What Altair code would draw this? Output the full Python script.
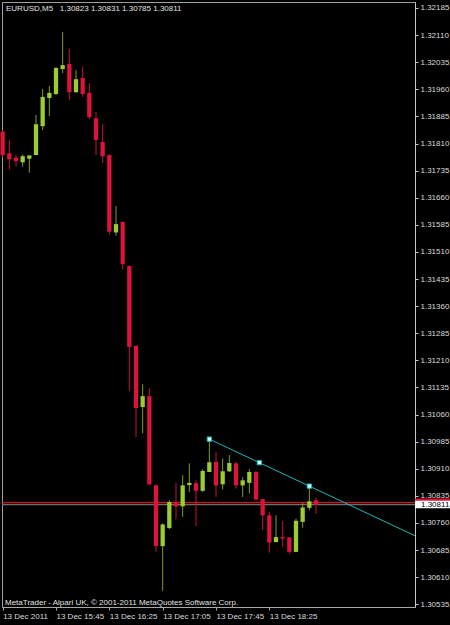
import altair as alt
import pandas as pd

# ---------------- data ----------------
times = ["15:05","15:10","15:15","15:20","15:25","15:30","15:35","15:40","15:45","15:50","15:55",
         "16:00","16:05","16:10","16:15","16:20","16:25","16:30","16:35","16:40","16:45","16:50","16:55",
         "17:00","17:05","17:10","17:15","17:20","17:25","17:30","17:35","17:40","17:45","17:50","17:55",
         "18:00","18:05","18:10","18:15","18:20","18:25","18:30","18:35","18:40","18:45","18:50","18:55",
         "19:00"]
opens = [1.31843,1.31783,1.31771,1.31758,1.31768,1.31778,1.31858,1.31936,1.31947,1.32016,1.32030,
         1.31952,1.31991,1.31950,1.31880,1.31814,1.31778,1.31564,1.31593,1.31471,1.31250,1.31081,1.31111,
         1.30864,1.30696,1.30746,1.30815,1.30806,1.30865,1.30870,1.30849,1.30901,1.30929,1.30867,1.30903,
         1.30925,1.30864,1.30871,1.30901,1.30826,1.30781,1.30707,1.30721,1.30720,1.30680,1.30763,1.30802,
         1.30823]
highs = [1.31847,1.31820,1.31778,1.31780,1.31778,1.31889,1.31961,1.31969,1.32022,1.32119,1.32072,
         1.32013,1.32022,1.31977,1.31897,1.31864,1.31780,1.31637,1.31595,1.31473,1.31252,1.31144,1.31133,
         1.30867,1.30759,1.30823,1.30871,1.30892,1.30925,1.30878,1.30909,1.30992,1.30957,1.30939,1.30948,
         1.30929,1.30887,1.30909,1.30904,1.30826,1.30790,1.30781,1.30765,1.30721,1.30772,1.30815,1.30862,
         1.30831]
lows = [1.31772,1.31738,1.31746,1.31746,1.31729,1.31778,1.31847,1.31886,1.31944,1.32005,1.31930,
        1.31950,1.31939,1.31878,1.31778,1.31756,1.31557,1.31555,1.31462,1.31125,1.30998,1.31008,1.30864,
        1.30680,1.30572,1.30743,1.30770,1.30777,1.30846,1.30751,1.30846,1.30901,1.30832,1.30853,1.30901,
        1.30855,1.30832,1.30842,1.30823,1.30740,1.30678,1.30707,1.30694,1.30675,1.30680,1.30747,1.30795,
        1.30785]
closes = [1.31778,1.31766,1.31761,1.31775,1.31777,1.31863,1.31939,1.31950,1.32019,1.32027,1.31952,
          1.31988,1.31947,1.31883,1.31820,1.31775,1.31566,1.31587,1.31476,1.31247,1.31078,1.31111,1.30867,
          1.30696,1.30756,1.30818,1.30806,1.30864,1.30871,1.30849,1.30904,1.30928,1.30864,1.30903,1.30926,
          1.30864,1.30878,1.30901,1.30825,1.30781,1.30706,1.30721,1.30717,1.30680,1.30766,1.30803,1.30820,
          1.30811]

y_ticks = [1.30535,1.30610,1.30685,1.30760,1.30835,1.30910,1.30985,1.31060,1.31135,1.31210,1.31285,
           1.31360,1.31435,1.31510,1.31585,1.31660,1.31735,1.31810,1.31885,1.31960,1.32035,1.32110,1.32185]
x_tick_times = ["15:05","15:45","16:25","17:05","17:45","18:25"]
x_tick_labels = ["13 Dec 2011","13 Dec 15:45","13 Dec 16:25","13 Dec 17:05","13 Dec 17:45","13 Dec 18:25"]

trend_times = ["17:40","18:55"]
trend_prices = [1.30992,1.30862]
bid_price = 1.30811
ask_price = 1.30817
symbol = "EURUSD,M5"
footer = "MetaTrader - Alpari UK, \u00a9 2001-2011 MetaQuotes Software Corp."

# ---------------- helpers ----------------
def bar_index(t):
    h, m = map(int, t.split(":"))
    return (h * 60 + m - (15 * 60 + 45)) / 5

X_DOMAIN = [-8.1, 53.85]
Y_DOMAIN = [1.305275, 1.322016]
FONT = "Liberation Sans"
UP, DOWN = "#9ACD32", "#DC143C"
UP_WICK, DOWN_WICK = "#7A9E26", "#C81234"
TREND = "#22B5B5"

df = pd.DataFrame({"t": times, "o": opens, "h": highs, "l": lows, "c": closes})
df["i"] = df["t"].map(bar_index)
df["lo"] = df[["o", "c"]].min(axis=1)
df["hi"] = df[["o", "c"]].max(axis=1)
df["col"] = [UP if c >= o else DOWN for o, c in zip(df["o"], df["c"])]
df["wcol"] = [UP_WICK if c >= o else DOWN_WICK for o, c in zip(df["o"], df["c"])]

xs = alt.Scale(domain=X_DOMAIN, nice=False, zero=False)
ys = alt.Scale(domain=Y_DOMAIN, nice=False, zero=False)

tick_idx = [bar_index(t) for t in x_tick_times]
label_expr = ""
for v, lab in zip(tick_idx, x_tick_labels):
    label_expr += f"datum.value == {v} ? '{lab}' : "
label_expr += "''"

x_axis = alt.Axis(values=tick_idx, labelExpr=label_expr, labelAlign="left", labelBaseline="top",
                  labelPadding=2, tickSize=3, tickColor="#A8A8A8", domainColor="#A8A8A8",
                  labelColor="#DADADA", labelFont=FONT, labelFontSize=8, grid=False, title=None,
                  labelOverlap=False, labelFlush=False)
y_axis = alt.Axis(orient="right", values=y_ticks, format=".5f", tickSize=3, tickColor="#C8C8C8",
                  domainColor="#C8C8C8", labelColor="#DADADA", labelFont=FONT, labelFontSize=8,
                  labelPadding=2, grid=False, title=None, labelOverlap=False, labelFlush=False,
                  labelBaseline="middle")

def X(field):
    return alt.X(field, scale=xs, axis=x_axis)

def Y(field):
    return alt.Y(field, scale=ys, axis=y_axis)

base = alt.Chart(df)

wicks = base.mark_rule(strokeWidth=1).encode(
    x=X("i:Q"), y=Y("l:Q"), y2="h:Q",
    color=alt.Color("wcol:N", scale=None),
)
bodies = base.mark_rect().transform_calculate(
    x0="datum.i - 0.32", x1="datum.i + 0.32"
).encode(
    x=X("x0:Q"), x2="x1:Q", y=Y("lo:Q"), y2="hi:Q",
    color=alt.Color("col:N", scale=None),
)

# bid / ask lines
lines_df = pd.DataFrame({"p": [bid_price, ask_price], "col": ["#6E6E6E", "#FF1010"],
                         "w": [1.6, 1.0]})
hlines = alt.Chart(lines_df).mark_rule().encode(
    y=Y("p:Q"),
    color=alt.Color("col:N", scale=None),
    strokeWidth=alt.StrokeWidth("w:Q", scale=None),
)

# trend line (ray)
i0, i1 = bar_index(trend_times[0]), bar_index(trend_times[1])
p0, p1 = trend_prices
slope = (p1 - p0) / (i1 - i0)
ray_df = pd.DataFrame({"i": [i0, X_DOMAIN[1]], "p": [p0, p0 + slope * (X_DOMAIN[1] - i0)]})
anchor_df = pd.DataFrame({"i": [i0, (i0 + i1) / 2, i1], "p": [p0, (p0 + p1) / 2, p1]})
ray = alt.Chart(ray_df).mark_line(color=TREND, strokeWidth=1, clip=True).encode(
    x=X("i:Q"), y=Y("p:Q"))
anchors = alt.Chart(anchor_df).mark_square(size=18, filled=True, color="#D8FFFF",
                                           stroke=TREND, strokeWidth=1, opacity=1).encode(
    x=X("i:Q"), y=Y("p:Q"))

# price label boxes on the axis
box_df = pd.DataFrame({"p": [ask_price, bid_price], "col": ["#E01030", "#FFFFFF"]})
boxes = alt.Chart(box_df).mark_rect().transform_calculate(
    top="datum.p + 0.000105", bot="datum.p - 0.000105"
).encode(
    x=alt.value(413), x2=alt.value(448),
    y=Y("top:Q"), y2="bot:Q",
    color=alt.Color("col:N", scale=None),
)
bid_text = alt.Chart(pd.DataFrame({"p": [bid_price]})).mark_text(
    align="left", baseline="middle", font=FONT, fontSize=8, color="#000000"
).encode(
    x=alt.value(419), y=Y("p:Q"), text=alt.Text("p:Q", format=".5f"))

# header and footer texts
header_df = pd.DataFrame({"txt": [symbol + "\u00a0\u00a0 " + " ".join(f"{v:.5f}" for v in
                                  (opens[-1], highs[-1], lows[-1], closes[-1]))]})
header = alt.Chart(header_df).mark_text(
    align="left", baseline="middle", font=FONT, fontSize=8, color="#E2E2E2"
).encode(x=alt.value(4), y=alt.value(7), text="txt:N")
footer_txt = alt.Chart(pd.DataFrame({"txt": [footer]})).mark_text(
    align="left", baseline="middle", font=FONT, fontSize=8, color="#E2E2E2"
).encode(x=alt.value(3), y=alt.value(601), text="txt:N")

chart = alt.layer(hlines, wicks, bodies, ray, anchors, boxes, bid_text, header, footer_txt).properties(
    width=413, height=605,
    background="#000000",
    padding={"left": 2, "top": 2, "right": 35, "bottom": 18},
    autosize=alt.AutoSizeParams(type="none"),
).configure_view(stroke="#A0A0A0", strokeWidth=1, fill="#000000")

chart.save("out.html", embed_options={"renderer": "svg", "actions": False})
